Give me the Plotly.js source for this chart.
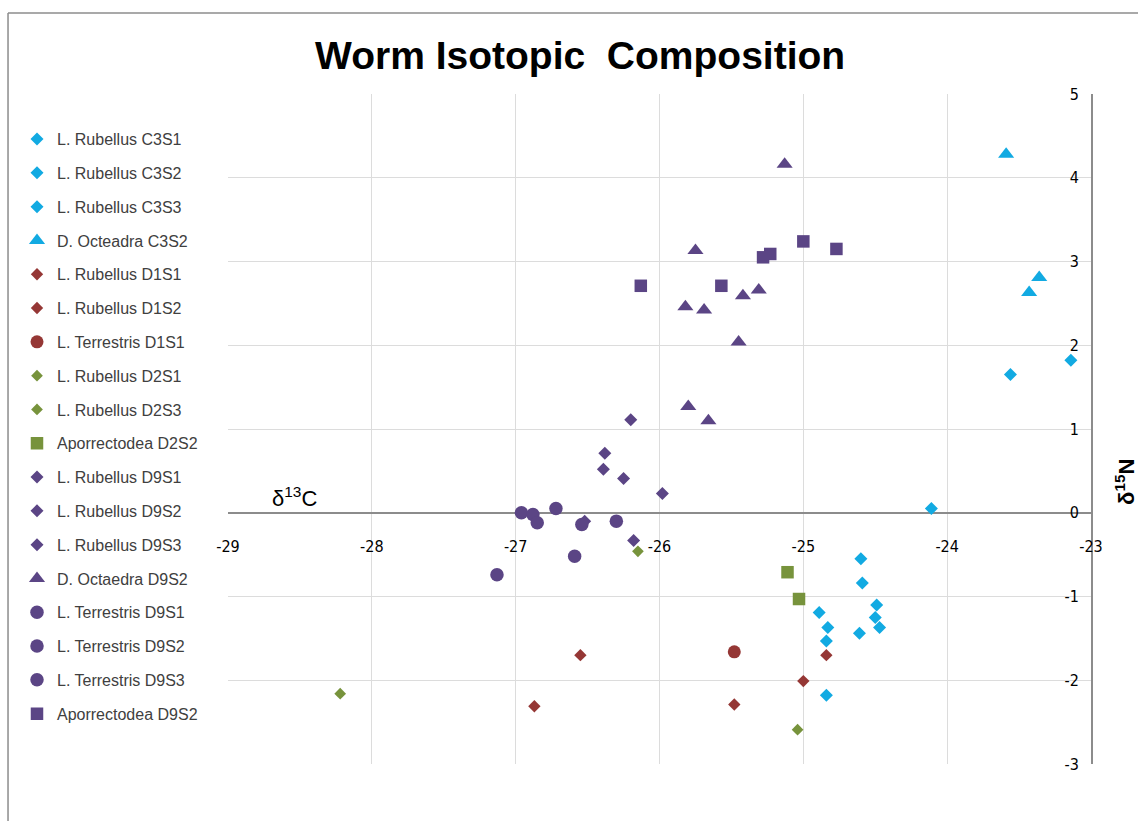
<!DOCTYPE html>
<html>
<head>
<meta charset="utf-8">
<script src="https://cdn.plot.ly/plotly-3.0.1.min.js"></script>
<style>html,body{margin:0;padding:0;background:#fff;}#chart{width:1138px;height:821px;}</style>
</head>
<body>
<div id="chart"></div>
<script>
// ---- Data ----
const seriesNames = [
  "L. Rubellus C3S1", "L. Rubellus C3S2", "L. Rubellus C3S3", "D. Octeadra C3S2",
  "L. Rubellus D1S1", "L. Rubellus D1S2", "L. Terrestris D1S1",
  "L. Rubellus D2S1", "L. Rubellus D2S3", "Aporrectodea D2S2",
  "L. Rubellus D9S1", "L. Rubellus D9S2", "L. Rubellus D9S3", "D. Octaedra D9S2",
  "L. Terrestris D9S1", "L. Terrestris D9S2", "L. Terrestris D9S3", "Aporrectodea D9S2"
];
const rubC3S1_x = [-23.14, -23.56, -24.11, -24.60];
const rubC3S1_y = [1.82, 1.65, 0.05, -0.55];
const rubC3S2_x = [-24.59, -24.49, -24.50, -24.47, -24.61];
const rubC3S2_y = [-0.84, -1.10, -1.25, -1.37, -1.44];
const rubC3S3_x = [-24.89, -24.83, -24.84, -24.84];
const rubC3S3_y = [-1.19, -1.37, -1.53, -2.18];
const octC3S2_x = [-23.59, -23.43, -23.36];
const octC3S2_y = [4.28, 2.63, 2.81];
const rubD1S1_x = [-26.55, -24.84, -25.00];
const rubD1S1_y = [-1.70, -1.70, -2.01];
const rubD1S2_x = [-26.87, -25.48];
const rubD1S2_y = [-2.31, -2.29];
const terD1S1_x = [-25.48];
const terD1S1_y = [-1.66];
const rubD2S1_x = [-28.22, -26.15];
const rubD2S1_y = [-2.16, -0.46];
const rubD2S3_x = [-25.04];
const rubD2S3_y = [-2.59];
const apoD2S2_x = [-25.11, -25.03];
const apoD2S2_y = [-0.71, -1.03];
const rubD9S1_x = [-26.20, -26.38, -26.39];
const rubD9S1_y = [1.11, 0.71, 0.52];
const rubD9S2_x = [-26.25, -25.98];
const rubD9S2_y = [0.41, 0.23];
const rubD9S3_x = [-26.52, -26.18];
const rubD9S3_y = [-0.10, -0.33];
const octD9S2_x = [-25.13, -25.75, -25.82, -25.69, -25.42, -25.31, -25.45, -25.80, -25.66];
const octD9S2_y = [4.16, 3.13, 2.46, 2.42, 2.59, 2.66, 2.04, 1.27, 1.10];
const terD9S1_x = [-26.96, -26.88, -26.85];
const terD9S1_y = [0.00, -0.02, -0.12];
const terD9S2_x = [-26.72, -26.54, -26.30];
const terD9S2_y = [0.05, -0.14, -0.10];
const terD9S3_x = [-26.59, -27.13];
const terD9S3_y = [-0.52, -0.74];
const apoD9S2_x = [-26.13, -25.57, -25.28, -25.23, -25.00, -24.77];
const apoD9S2_y = [2.71, 2.71, 3.05, 3.09, 3.24, 3.15];

const xTicks = [-29, -28, -27, -26, -25, -24, -23];
const yTicks = [-3, -2, -1, 0, 1, 2, 3, 4, 5];

// ---- Styles ----
const CYAN = "#12AAE2", RED = "#953735", GREEN = "#77933C", PURPLE = "#5B4585";
const styles = [
  {c: CYAN, s: "diamond", z: 10}, {c: CYAN, s: "diamond", z: 10}, {c: CYAN, s: "diamond", z: 10},
  {c: CYAN, s: "triangle-up", z: 14},
  {c: RED, s: "diamond", z: 9.5}, {c: RED, s: "diamond", z: 9.5}, {c: RED, s: "circle", z: 13},
  {c: GREEN, s: "diamond", z: 9}, {c: GREEN, s: "diamond", z: 9}, {c: GREEN, s: "square", z: 12.5},
  {c: PURPLE, s: "diamond", z: 10}, {c: PURPLE, s: "diamond", z: 10}, {c: PURPLE, s: "diamond", z: 10},
  {c: PURPLE, s: "triangle-up", z: 14},
  {c: PURPLE, s: "circle", z: 13.5}, {c: PURPLE, s: "circle", z: 13.5}, {c: PURPLE, s: "circle", z: 13.5},
  {c: PURPLE, s: "square", z: 12.5}
];
const xs = [rubC3S1_x, rubC3S2_x, rubC3S3_x, octC3S2_x, rubD1S1_x, rubD1S2_x, terD1S1_x,
  rubD2S1_x, rubD2S3_x, apoD2S2_x, rubD9S1_x, rubD9S2_x, rubD9S3_x, octD9S2_x,
  terD9S1_x, terD9S2_x, terD9S3_x, apoD9S2_x];
const ys = [rubC3S1_y, rubC3S2_y, rubC3S3_y, octC3S2_y, rubD1S1_y, rubD1S2_y, terD1S1_y,
  rubD2S1_y, rubD2S3_y, apoD2S2_y, rubD9S1_y, rubD9S2_y, rubD9S3_y, octD9S2_y,
  terD9S1_y, terD9S2_y, terD9S3_y, apoD9S2_y];

const traces = seriesNames.map((n, i) => ({
  type: "scatter", mode: "markers", name: n,
  x: xs[i], y: ys[i], legendgroup: "g" + i, cliponaxis: false,
  marker: {color: styles[i].c, symbol: styles[i].s, size: styles[i].z, line: {width: 0}}
}));

const TICKFONT = {family: "DejaVu Sans Condensed, Liberation Sans Narrow, sans-serif", size: 16, color: "#000"};

const layout = {
  width: 1138, height: 821,
  margin: {l: 228, r: 47, t: 94, b: 57},
  paper_bgcolor: "#fff", plot_bgcolor: "#fff",
  showlegend: true,
  title: {
    text: "<b>Worm Isotopic\u00a0 Composition</b>",
    font: {family: "Liberation Sans, Arial, sans-serif", size: 39, color: "#000"},
    x: 0.408, xref: "paper", xanchor: "center",
    y: 0.933, yref: "container", yanchor: "middle"
  },
  xaxis: {
    range: [-29, -23], tickvals: xTicks, ticktext: xTicks.map(String),
    showgrid: true, gridcolor: "#DCDCDC", gridwidth: 1,
    zeroline: false, showline: false,
    anchor: "free", position: 0.375, side: "bottom",
    ticks: "outside", ticklen: 19, tickcolor: "rgba(0,0,0,0)",
    tickfont: TICKFONT
  },
  yaxis: {
    range: [-3, 5], tickvals: yTicks, ticktext: yTicks.map(String),
    showgrid: true, gridcolor: "#DCDCDC", gridwidth: 1,
    zeroline: true, zerolinecolor: "#8C8C8C", zerolinewidth: 2,
    showline: true, linecolor: "#8C8C8C", linewidth: 1.5,
    anchor: "free", position: 1, side: "left",
    ticks: "outside", ticklen: 9, tickcolor: "rgba(0,0,0,0)",
    tickfont: TICKFONT
  },
  legend: {
    x: -0.2445, xanchor: "left", y: 0.958, yanchor: "top",
    font: {family: "Liberation Sans, Arial, sans-serif", size: 16, color: "#404040"},
    tracegroupgap: 10, bgcolor: "rgba(0,0,0,0)", borderwidth: 0,
    itemsizing: "trace"
  },
  annotations: [
    {text: "δ<sup>13</sup>C", xref: "paper", yref: "paper", x: 0.0765, y: 0.3985,
     xanchor: "center", yanchor: "middle", showarrow: false,
     font: {family: "Liberation Sans, Arial, sans-serif", size: 22, color: "#000"}},
    {text: "<b>δ<sup>15</sup>N</b>", xref: "paper", yref: "paper", x: 1.0394, y: 0.421,
     xanchor: "center", yanchor: "middle", showarrow: false, textangle: -90,
     font: {family: "Liberation Sans, Arial, sans-serif", size: 22, color: "#000"}}
  ],
  shapes: [
    {type: "line", xref: "paper", yref: "paper", x0: -0.2549, x1: -0.2549, y0: 1.1209, y1: -0.12,
     line: {color: "#8C8C8C", width: 1.5}},
    {type: "line", xref: "paper", yref: "paper", x0: -0.2549, x1: 1.07, y0: 1.1209, y1: 1.1209,
     line: {color: "#8C8C8C", width: 1.5}}
  ]
};

Plotly.newPlot("chart", traces, layout, {displayModeBar: false, staticPlot: true});
</script>
</body>
</html>
